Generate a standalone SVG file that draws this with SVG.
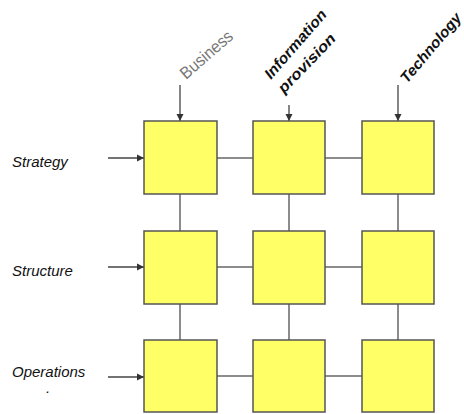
<svg xmlns="http://www.w3.org/2000/svg" width="464" height="414" viewBox="0 0 464 414">
<style>
.box{fill:#FFFF66;stroke:#555;stroke-width:1.5}
.ln{stroke:#666;stroke-width:1.5;fill:none}
.ar{stroke:#444;stroke-width:1.3;fill:none;marker-end:url(#ah)}
.lbl{font-family:"Liberation Sans",Arial,sans-serif;font-style:italic;font-size:15px;fill:#111}
.top{font-family:"Liberation Sans",Arial,sans-serif;font-weight:bold;font-style:italic;font-size:15px;fill:#111}
</style>
<defs>
<marker id="ah" markerWidth="8" markerHeight="8" refX="7" refY="4" orient="auto" markerUnits="userSpaceOnUse">
<path d="M0,0.5 L7,4 L0,7.5 z" fill="#333"/>
</marker>
</defs>
<rect width="464" height="414" fill="#fff"/>
<g id="connectors">
<line class="ln" x1="217" y1="158" x2="253" y2="158"/>
<line class="ln" x1="325" y1="158" x2="362" y2="158"/>
<line class="ln" x1="217" y1="267" x2="253" y2="267"/>
<line class="ln" x1="325" y1="267" x2="362" y2="267"/>
<line class="ln" x1="217" y1="376" x2="253" y2="376"/>
<line class="ln" x1="325" y1="376" x2="362" y2="376"/>
<line class="ln" x1="180" y1="194" x2="180" y2="231"/>
<line class="ln" x1="289" y1="194" x2="289" y2="231"/>
<line class="ln" x1="398" y1="194" x2="398" y2="231"/>
<line class="ln" x1="180" y1="304" x2="180" y2="340"/>
<line class="ln" x1="289" y1="304" x2="289" y2="340"/>
<line class="ln" x1="398" y1="304" x2="398" y2="340"/>
<line class="ar" x1="108" y1="158" x2="144" y2="158"/>
<line class="ar" x1="108" y1="267" x2="144" y2="267"/>
<line class="ar" x1="108" y1="377" x2="144" y2="377"/>
<line class="ar" x1="180" y1="85" x2="180" y2="121"/>
<line class="ar" x1="289" y1="105" x2="289" y2="121"/>
<line class="ar" x1="398" y1="85" x2="398" y2="121"/>
</g>
<g id="n11"><rect class="box" x="144" y="121" width="73" height="73"/></g>
<g id="n12"><rect class="box" x="253" y="121" width="72" height="73"/></g>
<g id="n13"><rect class="box" x="362" y="121" width="72" height="73"/></g>
<g id="n21"><rect class="box" x="144" y="231" width="73" height="73"/></g>
<g id="n22"><rect class="box" x="253" y="231" width="72" height="73"/></g>
<g id="n23"><rect class="box" x="362" y="231" width="72" height="73"/></g>
<g id="n31"><rect class="box" x="144" y="340" width="73" height="72"/></g>
<g id="n32"><rect class="box" x="253" y="340" width="72" height="72"/></g>
<g id="n33"><rect class="box" x="362" y="340" width="72" height="72"/></g>
<g id="labels">
<text class="lbl" x="12" y="167">Strategy</text>
<text class="lbl" x="12" y="276">Structure</text>
<text class="lbl" x="12" y="377">Operations</text>
<text class="lbl" x="46" y="393">.</text>
<text transform="translate(186,80) rotate(-41)" font-family="'Liberation Sans',Arial,sans-serif" font-size="17" fill="#777" textLength="64" lengthAdjust="spacingAndGlyphs">Business</text>
<text class="top" transform="translate(271,80) rotate(-49)" textLength="86" lengthAdjust="spacingAndGlyphs">Information</text>
<text class="top" transform="translate(284,94) rotate(-46)" textLength="76" lengthAdjust="spacingAndGlyphs">provision</text>
<text class="top" transform="translate(407,84) rotate(-50)" textLength="86" lengthAdjust="spacingAndGlyphs">Technology</text>
</g>
</svg>
